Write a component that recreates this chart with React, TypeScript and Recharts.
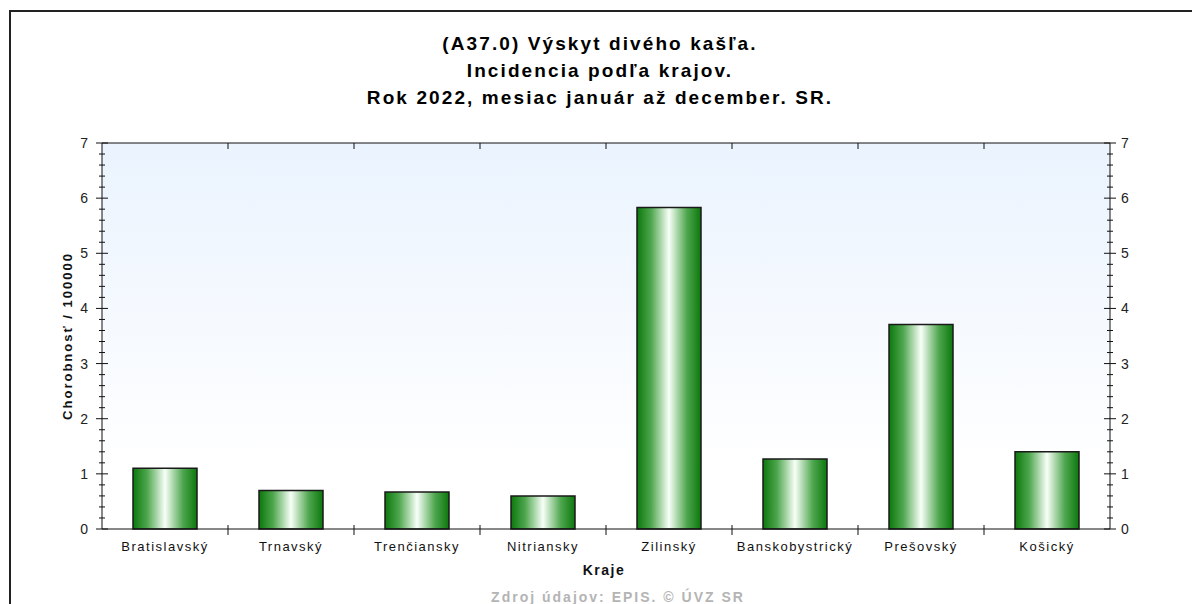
import React from 'react';
import { BarChart, Bar, XAxis, YAxis, CartesianGrid, ReferenceLine } from 'recharts';

const categories = ['Bratislavský', 'Trnavský', 'Trenčiansky', 'Nitriansky', 'Zilinský', 'Banskobystrický', 'Prešovský', 'Košický'];
const incidence = [1.1, 0.7, 0.67, 0.6, 5.83, 1.27, 3.71, 1.4];
const yMajorTicks = [0, 1, 2, 3, 4, 5, 6, 7];
const titleLines = ['(A37.0) Výskyt divého kašľa.', 'Incidencia podľa krajov.', 'Rok 2022, mesiac január až december. SR.'];

// minor ticks every 0.2 between the labelled ones
const yTicks = yMajorTicks.flatMap((t, i) =>
  i === yMajorTicks.length - 1 ? [t] : [0, 1, 2, 3, 4].map((k) => Math.round((t + k * 0.2) * 10) / 10)
);

const data = categories.map((name, i) => ({ name, value: incidence[i] }));

const font = '"Liberation Sans", Arial, sans-serif';
const PLOT_TOP = 143;

const YTick = (props: any) => {
  const { x, y, payload, side } = props;
  const v = payload.value;
  const major = Math.abs(v - Math.round(v)) < 1e-6;
  const len = major ? 6 : 3;
  return (
    <g>
      <line x1={x - len} x2={x + len} y1={y} y2={y} stroke="#111" strokeWidth={1} />
      {major && (
        <text
          x={side === 'left' ? x - 14 : x + 11}
          y={y}
          dy={5}
          textAnchor={side === 'left' ? 'end' : 'start'}
          fontSize={14}
          fontFamily={font}
          fill="#222"
        >
          {v}
        </text>
      )}
    </g>
  );
};

// bottom labels, plus the boundary marks on the bottom and top edges
const XTick = (props: any) => {
  const { x, y, payload, index } = props;
  const half = payload.offset || 63;
  const last = index >= categories.length - 1;
  return (
    <g>
      {!last && <line x1={x + half} x2={x + half} y1={y - 4} y2={y + 6} stroke="#111" />}
      {!last && <line x1={x + half} x2={x + half} y1={PLOT_TOP} y2={PLOT_TOP + 6} stroke="#111" />}
      <text x={x} y={y + 22} textAnchor="middle" fontSize={13} fontFamily={font} letterSpacing={1.5} fill="#111">
        {payload.value}
      </text>
    </g>
  );
};

export default function App() {
  return (
    <div style={{ position: 'absolute', left: 0, top: 0, width: 1192, height: 604, overflow: 'hidden', background: '#fff' }}>
      <div
        style={{
          position: 'absolute',
          left: 9,
          top: 10,
          width: 1300,
          height: 700,
          borderTop: '2px solid #222',
          borderLeft: '2px solid #222',
        }}
      />
      <div
        style={{
          position: 'absolute',
          left: 4,
          top: 30,
          width: 1192,
          textAlign: 'center',
          fontFamily: font,
          fontSize: 19,
          fontWeight: 'bold',
          letterSpacing: 2.1,
          lineHeight: '27px',
          color: '#000',
        }}
      >
        {titleLines.map((t) => (
          <div key={t}>{t}</div>
        ))}
      </div>
      <div style={{ position: 'absolute', left: 0, top: 0 }}>
        <BarChart width={1192} height={604} data={data} margin={{ top: PLOT_TOP, right: 52, bottom: 45, left: 72 }}>
          <defs>
            <linearGradient id="plotBg" x1="0" y1="0" x2="0" y2="1">
              <stop offset="0" stopColor="#eaf3fe" />
              <stop offset="0.85" stopColor="#ffffff" />
            </linearGradient>
            <linearGradient id="barGrad" x1="0" y1="0" x2="1" y2="0">
              <stop offset="0" stopColor="#0c780c" />
              <stop offset="0.22" stopColor="#4ea64e" />
              <stop offset="0.5" stopColor="#f8fff8" />
              <stop offset="0.78" stopColor="#4ea64e" />
              <stop offset="1" stopColor="#0c780c" />
            </linearGradient>
          </defs>
          <CartesianGrid xAxisId="bottom" yAxisId="left" horizontal={false} vertical={false} fill="url(#plotBg)" stroke="none" />
          <XAxis
            xAxisId="bottom"
            dataKey="name"
            height={30}
            interval={0}
            tickSize={0}
            tickMargin={0}
            tickLine={false}
            axisLine={{ stroke: '#111' }}
            tick={(p: any) => <XTick {...p} />}
          />
          <YAxis
            yAxisId="left"
            width={30}
            domain={[0, 7]}
            ticks={yTicks}
            interval={0}
            tickSize={0}
            tickMargin={0}
            tickLine={false}
            axisLine={{ stroke: '#111' }}
            tick={(p: any) => <YTick {...p} side="left" />}
          />
          <YAxis
            yAxisId="right"
            orientation="right"
            width={30}
            domain={[0, 7]}
            allowDataOverflow
            type="number"
            ticks={yTicks}
            interval={0}
            tickSize={0}
            tickMargin={0}
            tickLine={false}
            axisLine={{ stroke: '#111' }}
            tick={(p: any) => <YTick {...p} side="right" />}
          />
          <ReferenceLine xAxisId="bottom" yAxisId="left" y={7} stroke="#111" />
          <Bar
            xAxisId="bottom"
            yAxisId="left"
            dataKey="value"
            barSize={64}
            fill="url(#barGrad)"
            stroke="#1a1a1a"
            strokeWidth={1.5}
            isAnimationActive={false}
          />
        </BarChart>
      </div>
      <div
        style={{
          position: 'absolute',
          left: 67,
          top: 336,
          transform: 'translate(-50%, -50%) rotate(-90deg)',
          whiteSpace: 'nowrap',
          fontFamily: font,
          fontSize: 13,
          fontWeight: 'bold',
          letterSpacing: 2,
          color: '#111',
        }}
      >
        Chorobnosť / 100000
      </div>
      <div
        style={{
          position: 'absolute',
          left: 0,
          top: 562,
          width: 1208,
          textAlign: 'center',
          fontFamily: font,
          fontSize: 14,
          fontWeight: 'bold',
          letterSpacing: 1.5,
          color: '#111',
        }}
      >
        Kraje
      </div>
      <div
        style={{
          position: 'absolute',
          left: 0,
          top: 589,
          width: 1236,
          textAlign: 'center',
          fontFamily: font,
          fontSize: 14,
          fontWeight: 'bold',
          letterSpacing: 2,
          color: '#b4b4b4',
        }}
      >
        Zdroj údajov: EPIS. © ÚVZ SR
      </div>
    </div>
  );
}
